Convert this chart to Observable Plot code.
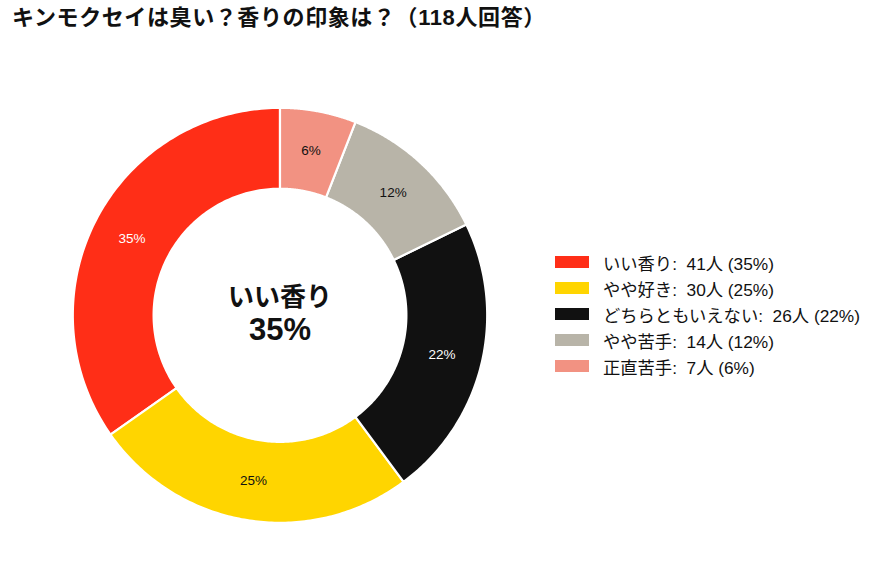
<!DOCTYPE html>
<html><head><meta charset="utf-8">
<script src="https://cdn.jsdelivr.net/npm/d3@7"></script>
<script src="https://cdn.jsdelivr.net/npm/@observablehq/plot@0.6"></script>
<style>
body{margin:0;background:#fff;font-family:"Liberation Sans","Noto Sans CJK JP",sans-serif;}
#wrap{position:relative;width:877px;height:586px;overflow:hidden;}
#title{position:absolute;left:12px;top:3px;font-size:22px;letter-spacing:0.6px;font-weight:bold;line-height:30px;color:#111;white-space:nowrap;}
#chart{position:absolute;left:0;top:40px;}
#legend{position:absolute;left:555px;top:249px;font-size:17.3px;color:#111;}
.row{display:flex;align-items:center;height:26px;}
.sw{width:34px;height:12px;margin-right:14px;}
</style></head>
<body><div id="wrap"><div id="title">キンモクセイは臭い？香りの印象は？（118人回答）</div><div id="chart"></div><div id="legend"></div></div>
<script>
const categories = ["いい香り","やや好き","どちらともいえない","やや苦手","正直苦手"];
const counts = [41,30,26,14,7];
const colors = ["#ff2e17","#ffd500","#111111","#b8b4a8","#f29282"];
const labelColors = ["#ffffff","#111111","#ffffff","#111111","#111111"];

const total = d3.sum(counts);
const pct = counts.map(c => Math.round(c / total * 100));
const inner = 0.61;
let cum = 0;
const slicePts = [], labels = [];
categories.forEach((cat, i) => {
  const a0 = -2*Math.PI*cum/total;
  cum += counts[i];
  const a1 = -2*Math.PI*cum/total;
  const n = 120;
  for (let k=0;k<=n;k++){const a=a0+(a1-a0)*k/n;slicePts.push({cat,x:Math.sin(a),y:Math.cos(a)});}
  for (let k=n;k>=0;k--){const a=a0+(a1-a0)*k/n;slicePts.push({cat,x:Math.sin(a)*inner,y:Math.cos(a)*inner});}
  const am=(a0+a1)/2, rm=(1+inner)/2;
  labels.push({text:pct[i]+"%",x:Math.sin(am)*rm,y:Math.cos(am)*rm,color:labelColors[i]});
});

const plot = Plot.plot({
  width:877, height:546, margin:0,
  x:{domain:[-1,1], range:[72.3,486.7], axis:null},
  y:{domain:[-1,1], range:[482.3,67.3], axis:null},
  color:{domain:categories, range:colors},
  style:{fontFamily:'"Liberation Sans","Noto Sans CJK JP",sans-serif', background:"white"},
  marks:[
    Plot.line(slicePts,{x:"x",y:"y",z:"cat",fill:"cat",stroke:"white",strokeWidth:2.2,curve:"linear-closed"}),
    Plot.text(labels,{x:"x",y:"y",text:"text",fill:"color",fontSize:13.5}),
    Plot.text([categories[0]],{x:()=>0,y:()=>0,text:d=>d,dy:-18,fontSize:26,fontWeight:"bold",fill:"#111"}),
    Plot.text([pct[0]+"%"],{x:()=>0,y:()=>0,text:d=>d,dy:15,fontSize:31,fontWeight:"bold",fill:"#111"})
  ]
});
document.getElementById("chart").appendChild(plot);

const lg = document.getElementById("legend");
categories.forEach((cat,i)=>{
  const r=document.createElement("div");r.className="row";
  const s=document.createElement("div");s.className="sw";s.style.background=colors[i];
  const t=document.createElement("span");t.textContent=`${cat}:\u00a0\u00a0${counts[i]}人 (${pct[i]}%)`;
  r.appendChild(s);r.appendChild(t);lg.appendChild(r);
});
</script></body></html>
